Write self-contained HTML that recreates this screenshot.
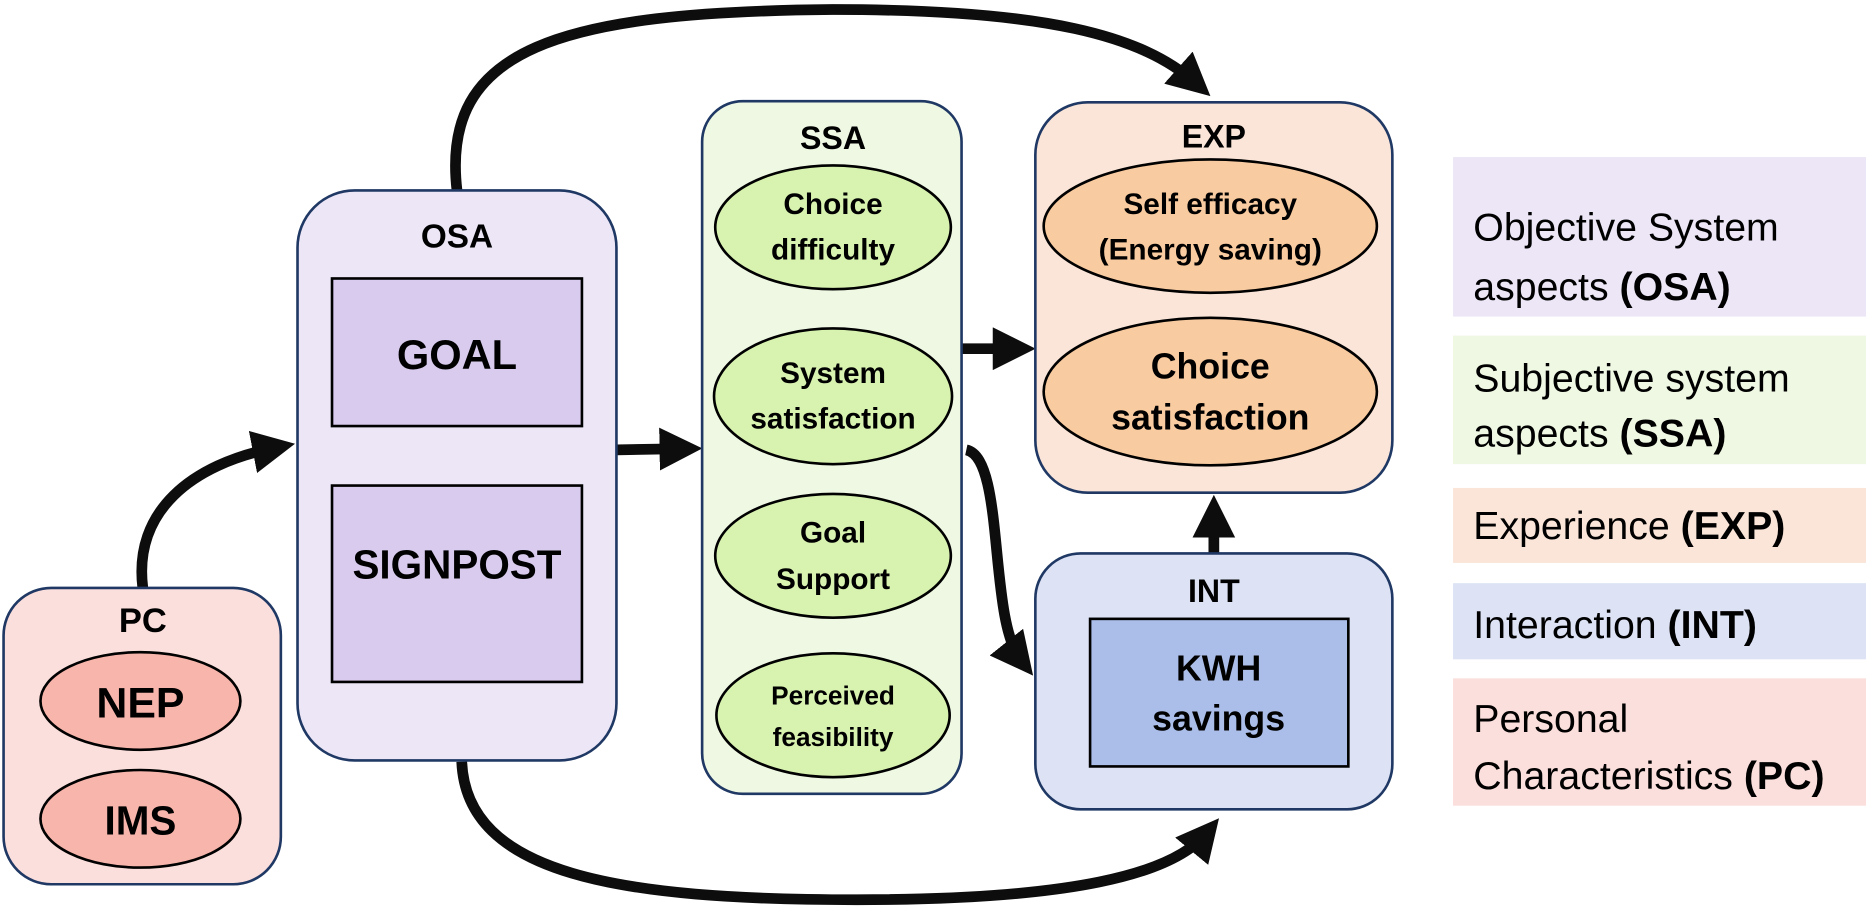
<!DOCTYPE html>
<html><head><meta charset="utf-8"><style>
html,body{margin:0;padding:0;background:#fff;overflow:hidden;}
svg{display:block;}
text{font-family:"Liberation Sans",sans-serif;font-weight:bold;fill:#000;text-anchor:middle;}
.lg{font-weight:normal;text-anchor:start;font-size:33px;}
.lg tspan.b{font-weight:bold;}
</style></head><body>
<svg width="1866" height="924" viewBox="0 0 1568 776.4" preserveAspectRatio="none" xmlns="http://www.w3.org/2000/svg">
<defs>
<marker id="ah" markerWidth="4" markerHeight="4" refX="2.2" refY="2" orient="auto" markerUnits="strokeWidth">
<path d="M0,0 L4,2 L0,4 z" fill="#0d0d0d"/>
</marker>
</defs>
<g fill="none" stroke="#0d0d0d" stroke-width="9">
<path d="M120,494 C112,430 160,390 232,376" marker-end="url(#ah)"/>
<path d="M384,160 C370,40 470,10 700,8 C880,8 960,30 1005,70" marker-end="url(#ah)"/>
<path d="M388,640 C392,735 520,756 720,756 C900,756 985,735 1014,700" marker-end="url(#ah)"/>
<path d="M518,378 L574,377" marker-end="url(#ah)"/>
<path d="M808,293 L854,293" marker-end="url(#ah)"/>
<path d="M812,378 C845,385 830,520 858,555" marker-end="url(#ah)"/>
<path d="M1020,465 L1020,432" marker-end="url(#ah)"/>
</g>
<!-- PC -->
<rect x="3" y="494" width="233" height="249" rx="40" fill="#fbdfdc" stroke="#1f3864" stroke-width="2.2"/>
<text x="120" y="531" font-size="29">PC</text>
<ellipse cx="118" cy="589" rx="84" ry="41" fill="#f8b5ac" stroke="#000" stroke-width="2.2"/>
<text x="118" y="603" font-size="36">NEP</text>
<ellipse cx="118" cy="688" rx="84" ry="41" fill="#f8b5ac" stroke="#000" stroke-width="2.2"/>
<text x="118" y="701" font-size="34">IMS</text>
<!-- OSA -->
<rect x="250" y="160" width="268" height="479" rx="48" fill="#ece6f6" stroke="#1f3864" stroke-width="2.2"/>
<text x="384" y="208" font-size="28">OSA</text>
<rect x="279" y="234" width="210" height="124" fill="#d9cbee" stroke="#000" stroke-width="2.2"/>
<text x="384" y="310" font-size="35">GOAL</text>
<rect x="279" y="408" width="210" height="165" fill="#d9cbee" stroke="#000" stroke-width="2.2"/>
<text x="384" y="486" font-size="34">SIGNPOST</text>
<!-- SSA -->
<rect x="590" y="85" width="218" height="582" rx="34" fill="#eff8e3" stroke="#1f3864" stroke-width="2.2"/>
<text x="700" y="125" font-size="27">SSA</text>
<ellipse cx="700" cy="191" rx="99" ry="52" fill="#d8f2b0" stroke="#000" stroke-width="2.2"/>
<text x="700" y="180" font-size="25">Choice</text><text x="700" y="218" font-size="25">difficulty</text>
<ellipse cx="700" cy="333" rx="100" ry="57" fill="#d8f2b0" stroke="#000" stroke-width="2.2"/>
<text x="700" y="322" font-size="25">System</text><text x="700" y="360" font-size="25">satisfaction</text>
<ellipse cx="700" cy="467" rx="99" ry="52" fill="#d8f2b0" stroke="#000" stroke-width="2.2"/>
<text x="700" y="456" font-size="25">Goal</text><text x="700" y="495" font-size="25">Support</text>
<ellipse cx="700" cy="601" rx="98" ry="52" fill="#d8f2b0" stroke="#000" stroke-width="2.2"/>
<text x="700" y="592" font-size="22">Perceived</text><text x="700" y="627" font-size="22">feasibility</text>
<!-- EXP -->
<rect x="870" y="86" width="300" height="328" rx="44" fill="#fae5d8" stroke="#1f3864" stroke-width="2.2"/>
<text x="1020" y="124" font-size="27">EXP</text>
<ellipse cx="1017" cy="190" rx="140" ry="56" fill="#f9cba0" stroke="#000" stroke-width="2.2"/>
<text x="1017" y="180" font-size="25">Self efficacy</text><text x="1017" y="218" font-size="25">(Energy saving)</text>
<ellipse cx="1017" cy="329" rx="140" ry="62" fill="#f9cba0" stroke="#000" stroke-width="2.2"/>
<text x="1017" y="318" font-size="30">Choice</text><text x="1017" y="361" font-size="30">satisfaction</text>
<!-- INT -->
<rect x="870" y="465" width="300" height="215" rx="38" fill="#dde3f5" stroke="#1f3864" stroke-width="2.2"/>
<text x="1020" y="506" font-size="27">INT</text>
<rect x="916" y="520" width="217" height="124" fill="#abbee9" stroke="#000" stroke-width="2.2"/>
<text x="1024" y="572" font-size="30">KWH</text><text x="1024" y="614" font-size="30">savings</text>
<!-- legend -->
<rect x="1221" y="132" width="347" height="134" fill="#ece6f6"/>
<text class="lg" x="1238" y="202">Objective System</text>
<text class="lg" x="1238" y="252">aspects <tspan class="b">(OSA)</tspan></text>
<rect x="1221" y="282" width="347" height="108" fill="#eff8e3"/>
<text class="lg" x="1238" y="329">Subjective system</text>
<text class="lg" x="1238" y="375">aspects <tspan class="b">(SSA)</tspan></text>
<rect x="1221" y="410" width="347" height="63" fill="#fae5d8"/>
<text class="lg" x="1238" y="453">Experience <tspan class="b">(EXP)</tspan></text>
<rect x="1221" y="490" width="347" height="64" fill="#dde3f5"/>
<text class="lg" x="1238" y="536">Interaction <tspan class="b">(INT)</tspan></text>
<rect x="1221" y="570" width="347" height="107" fill="#fbdfdc"/>
<text class="lg" x="1238" y="615">Personal</text>
<text class="lg" x="1238" y="663">Characteristics <tspan class="b">(PC)</tspan></text>
</svg>
</body></html>
